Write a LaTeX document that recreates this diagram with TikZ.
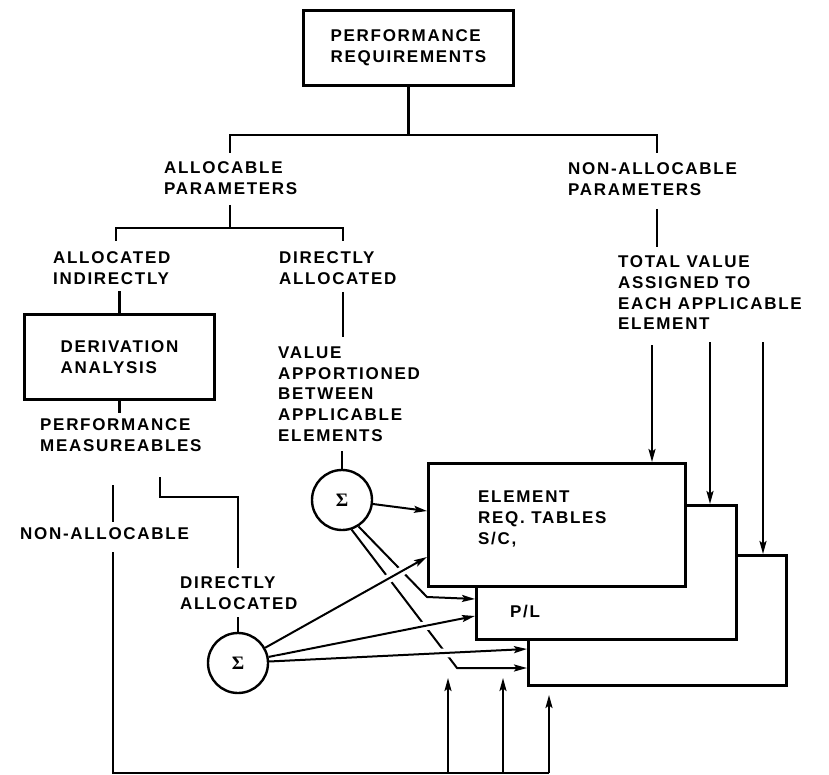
\documentclass[tikz,border=0pt]{standalone}
\usepackage{fontspec}
\setmainfont{Liberation Sans}[LetterSpace=10]
\newfontfamily\sigfont{Liberation Serif}
\usetikzlibrary{arrows.meta}
\begin{document}
\begin{tikzpicture}[x=1pt,y=-1pt,
  txt/.style={font=\bfseries\fontsize{17}{20.7}\selectfont, align=left},
  lbl/.style={txt, inner sep=0pt, anchor=west},
  box/.style={draw, line width=3pt, fill=white, inner sep=0pt, anchor=north west},
  ln/.style={line width=2.3pt},
  arr/.style={line width=2pt, -{Stealth[length=13pt,width=7pt,inset=2.5pt]}},
  halo/.style={white, line width=9pt, shorten <=6pt, shorten >=16pt},
  sig/.style={draw, circle, line width=2.4pt, minimum size=60pt, inner sep=0pt,
              font=\sigfont\bfseries\fontsize{19}{19}\selectfont}]
\useasboundingbox (0,0) rectangle (829,775);
% top
\node[box, txt, minimum width=210pt, minimum height=75pt] (perf) at (302,9) {PERFORMANCE\\REQUIREMENTS};
\coordinate (j0) at (406,135);
\draw[ln] (perf.south) -- (perf.south |- j0);
\draw[ln] (230,153) -- (230,135) -- (657,135) -- (657,153);
\node[lbl] (alloc) at (164,178) {ALLOCABLE\\PARAMETERS};
\node[lbl] (nonalloc) at (568,179) {NON-ALLOCABLE\\PARAMETERS};
\draw[ln] (230,205) -- (230,228);
\draw[ln] (116,241) -- (116,228) -- (343,228) -- (343,241);
\draw[ln] (657,209) -- (657,247);
\node[lbl] (allocind) at (53,268) {ALLOCATED\\INDIRECTLY};
\node[lbl] (diralloc) at (279,268) {DIRECTLY\\ALLOCATED};
\node[lbl] (total) at (618,293) {TOTAL VALUE\\ASSIGNED TO\\EACH APPLICABLE\\ELEMENT};
% derivation
\node[box, txt, minimum width=190pt, minimum height=85pt] (deriv) at (23,313) {DERIVATION\\ANALYSIS};
\draw[ln] (deriv.north) -- ++(0,-22);
\draw[ln] (deriv.south) -- ++(0,12);
\node[lbl] (perfmeas) at (40,435) {PERFORMANCE\\MEASUREABLES};
% value
\draw[ln] (343,292) -- (343,337);
\node[lbl] (value) at (278,394) {VALUE\\APPORTIONED\\BETWEEN\\APPLICABLE\\ELEMENTS};
\node[sig] (s1) at (342,500) {Σ};
\draw[ln] (s1.north) -- ++(0,-18);
% element boxes
\node[box, minimum width=258pt, minimum height=130pt] (b3) at (527,554) {};
\node[box, minimum width=260pt, minimum height=134pt] (b2) at (475,504) {};
\node[box, minimum width=257pt, minimum height=123pt] (b1) at (427,462) {};
\node[lbl] (eltxt) at (478,519) {ELEMENT\\REQ. TABLES\\S/C,};
\node[lbl] (pl) at (510,612) {P/L};
% top arrows
\coordinate (t1) at (652,345);
\coordinate (t2) at (710,342);
\coordinate (t3) at (763,342);
\draw[arr] (t1) -- (t1 |- b1.north);
\draw[arr] (t2) -- (t2 |- b2.north);
\draw[arr] (t3) -- (t3 |- b3.north);
% sigma 1 outputs
\coordinate (y511) at (0,511);
\coordinate (y599) at (0,599);
\coordinate (y668) at (0,668);
\coordinate (c1) at (427,597);
\coordinate (c2) at (457,668);
\draw[arr] (s1) -- (b1.west |- y511);
\draw[arr] (s1.-58) -- (c1) -- (b2.west |- y599);
\draw[arr] (s1.-72) -- (c2) -- (b3.west |- y668);
% sigma 2
\draw[ln] (160,477) -- (160,497) -- (238,497) -- (238,568);
\node[lbl] (diralloc2) at (180,593) {DIRECTLY\\ALLOCATED};
\node[sig] (s2) at (238,663) {Σ};
\draw[ln] (s2.north) -- ++(0,-15);
\coordinate (y557) at (0,557);
\coordinate (y616) at (0,616);
\coordinate (y649) at (0,649);
\draw[halo] (s2) -- (b1.west |- y557);
\draw[arr] (s2) -- (b1.west |- y557);
\draw[halo] (s2) -- (b2.west |- y616);
\draw[arr] (s2) -- (b2.west |- y616);
\draw[halo] (s2) -- (b3.west |- y649);
\draw[arr] (s2) -- (b3.west |- y649);
% non-allocable feedback
\draw[ln] (113,485) -- (113,522);
\node[lbl] (nonalloc2) at (20,534) {NON-ALLOCABLE};
\coordinate (f0) at (113,773);
\coordinate (f1) at (448,773);
\coordinate (f2) at (503,773);
\coordinate (f3) at (549,773);
\coordinate (h1) at (448,678);
\coordinate (h2) at (503,678);
\coordinate (h3) at (549,695);
\draw[ln] (113,552) -- (f0) -- (f3);
\draw[arr] (f1) -- (h1);
\draw[arr] (f2) -- (h2);
\draw[arr] (f3) -- (h3);
\end{tikzpicture}
\end{document}
